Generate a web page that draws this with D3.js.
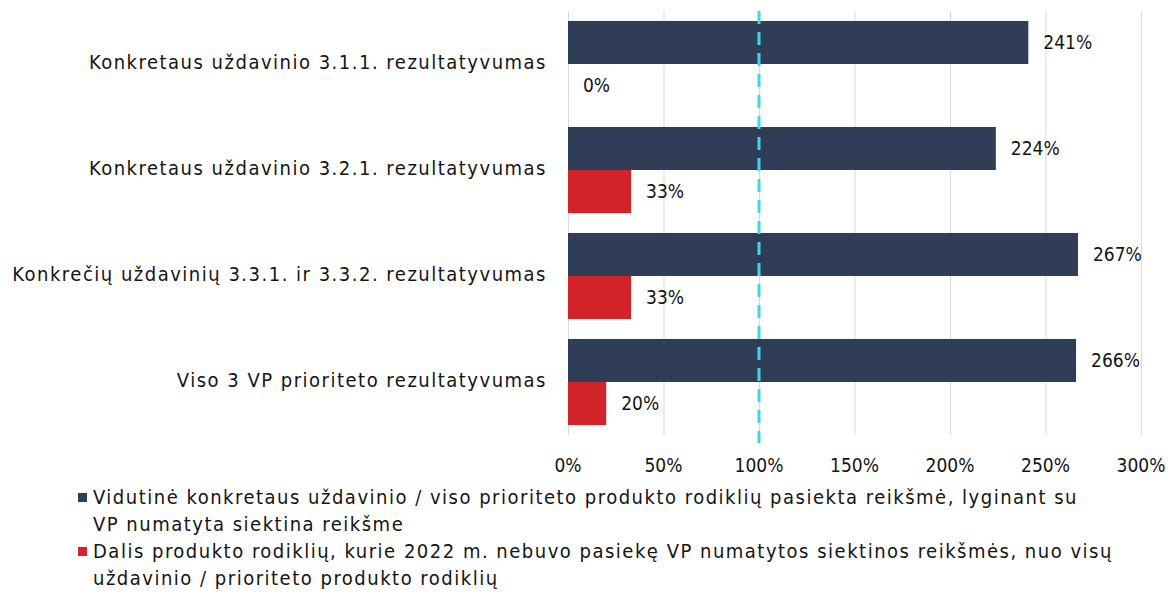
<!DOCTYPE html>
<html>
<head>
<meta charset="utf-8">
<script src="https://cdn.jsdelivr.net/npm/d3@7"></script>
<style>
  body { margin: 0; background: #fff; }
  text { font-family: "DejaVu Sans Condensed", "DejaVu Sans", sans-serif; fill: #141414; }
  .grid line { stroke: #d9d9d9; stroke-width: 1; }
  .grid .domain { display: none; }
  .spaced { letter-spacing: 1.5px; }
</style>
</head>
<body>
<div id="chart"></div>
<script>
// data
const categories = [
    "Konkretaus uždavinio 3.1.1. rezultatyvumas",
    "Konkretaus uždavinio 3.2.1. rezultatyvumas",
    "Konkrečių uždavinių 3.3.1. ir 3.3.2. rezultatyvumas",
    "Viso 3 VP prioriteto rezultatyvumas"
];
const achieved = [241, 224, 267, 266];
const notReached = [0, 33, 33, 20];
const xTicks = [0, 50, 100, 150, 200, 250, 300];
const targetLine = 100;
const seriesNames = [
    ["Vidutinė konkretaus uždavinio / viso prioriteto produkto rodiklių pasiekta reikšmė, lyginant su", "VP numatyta siektina reikšme"],
    ["Dalis produkto rodiklių, kurie 2022 m. nebuvo pasiekę VP numatytos siektinos reikšmės, nuo visų", "uždavinio / prioriteto produkto rodiklių"]
];

const navy = "#2f3e56";
const red = "#d2232a";
const cyan = "#3ed5ee";

const width = 1172;
const height = 602;
const margin = { top: 11, left: 568, right: 31 };
const plotBottom = 435;

const svg = d3.select("#chart")
    .append("svg")
    .attr("width", width)
    .attr("height", height);

const xScale = d3.scaleLinear()
    .domain([0, 300])
    .range([margin.left, width - margin.right]);

const yScale = d3.scaleBand()
    .domain(categories)
    .range([margin.top, plotBottom])
    .paddingInner(0.188)
    .paddingOuter(0.094);

// grid first
svg.append("g")
    .attr("class", "grid")
    .attr("transform", `translate(0, ${plotBottom})`)
    .call(d3.axisBottom(xScale)
        .tickValues(xTicks)
        .tickSize(-(plotBottom - margin.top))
        .tickFormat(""));

const barH = yScale.bandwidth() / 2;

svg.append("g")
    .selectAll("rect")
    .data(categories)
    .join("rect")
    .attr("x", xScale(0))
    .attr("y", d => yScale(d))
    .attr("width", (d, i) => xScale(achieved[i]) - xScale(0))
    .attr("height", barH)
    .attr("fill", navy);

svg.append("g")
    .selectAll("rect")
    .data(categories)
    .join("rect")
    .attr("x", xScale(0))
    .attr("y", d => yScale(d) + barH)
    .attr("width", (d, i) => xScale(notReached[i]) - xScale(0))
    .attr("height", barH)
    .attr("fill", red);

// value labels
const labelSize = 19;
svg.append("g")
    .selectAll("text")
    .data(categories)
    .join("text")
    .attr("x", (d, i) => xScale(achieved[i]) + 15)
    .attr("y", d => yScale(d) + barH / 2)
    .attr("dy", "0.35em")
    .attr("font-size", labelSize)
    .text((d, i) => achieved[i] + "%");

svg.append("g")
    .selectAll("text")
    .data(categories)
    .join("text")
    .attr("x", (d, i) => xScale(notReached[i]) + 15)
    .attr("y", d => yScale(d) + barH * 1.5)
    .attr("dy", "0.35em")
    .attr("font-size", labelSize)
    .text((d, i) => notReached[i] + "%");

// category labels
svg.append("g")
    .selectAll("text")
    .data(categories)
    .join("text")
    .attr("class", "spaced")
    .attr("x", margin.left - 21)
    .attr("y", d => yScale(d) + barH - 2)
    .attr("dy", "0.35em")
    .attr("text-anchor", "end")
    .attr("font-size", 20)
    .text(d => d);

// 100% target line
svg.append("line")
    .attr("x1", xScale(targetLine))
    .attr("x2", xScale(targetLine))
    .attr("y1", margin.top)
    .attr("y2", plotBottom + 8)
    .attr("stroke", cyan)
    .attr("stroke-width", 3)
    .attr("stroke-dasharray", "13 8");

// x axis labels
svg.append("g")
    .selectAll("text")
    .data(xTicks)
    .join("text")
    .attr("x", d => xScale(d))
    .attr("y", 465)
    .attr("dy", "0.35em")
    .attr("text-anchor", "middle")
    .attr("font-size", labelSize)
    .text(d => d + "%");

// legend
const legendColors = [navy, red];
const legendY = [497, 551];
const legend = svg.append("g");
seriesNames.forEach((lines, i) => {
    legend.append("rect")
        .attr("x", 78)
        .attr("y", legendY[i] - 4)
        .attr("width", 9)
        .attr("height", 9)
        .attr("fill", legendColors[i]);
    const t = legend.append("text")
        .attr("class", "spaced")
        .attr("font-size", 20);
    lines.forEach((line, j) => {
        t.append("tspan")
            .attr("x", 93)
            .attr("y", legendY[i] + j * 27)
            .attr("dy", "0.35em")
            .text(line);
    });
});
</script>
</body>
</html>
